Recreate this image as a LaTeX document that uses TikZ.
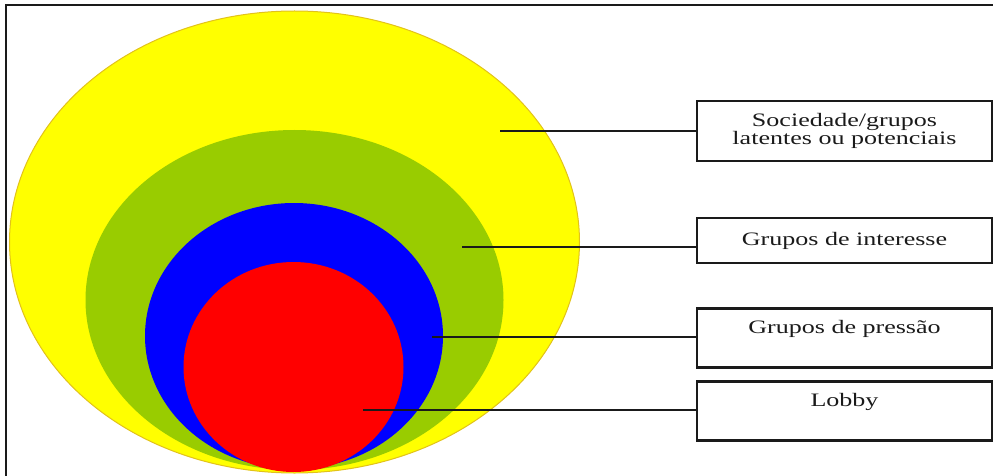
\documentclass[tikz,border=0pt]{standalone}
\usepackage{fontspec}
\setmainfont{Liberation Serif}
\newfontfamily\boxfont[FakeStretch=1.37]{Liberation Serif}
\definecolor{ylw}{HTML}{FFFF00}
\definecolor{ylwedge}{HTML}{E2C21A}
\definecolor{grn}{HTML}{99CC00}
\definecolor{blu}{HTML}{0000FF}
\definecolor{rd}{HTML}{FF0000}
\definecolor{ink}{HTML}{1A1A1A}
\tikzset{
  labelbox/.style={draw=ink, line width=2.5pt, rectangle, minimum width=295pt,
    inner sep=0pt, align=center, font=\boxfont\fontsize{19}{18.5}\selectfont, text=ink},
  connector/.style={draw=ink, line width=2.2pt},
}
\begin{document}
\begin{tikzpicture}[x=1pt,y=-1pt]
\useasboundingbox (0,0) rectangle (993,476);
% outer frame
\draw[ink, line width=2.5pt] (6,476) -- (6,5) -- (993,5);
% nested ellipses
\filldraw[fill=ylw, draw=ylwedge, line width=1pt] (294.5,242) ellipse [x radius=285, y radius=231];
\fill[grn] (294.5,300) ellipse [x radius=209, y radius=170];
\fill[blu] (294,336) ellipse [x radius=149, y radius=133];
\fill[rd] (293.5,367) ellipse [x radius=110, y radius=105];
% boxes
\node[labelbox, minimum height=60pt] (b1) at (844.5,131) {Sociedade/grupos\\latentes ou potenciais};
\node[labelbox, minimum height=45pt] (b2) at (844.5,240.5) {Grupos de interesse};
\node[labelbox, text height=25pt, text depth=34pt, anchor=north] (b3) at (844.5,307) {Grupos de pressão};
\node[labelbox, text height=25pt, text depth=34pt, anchor=north] (b4) at (844.5,380) {Lobby};
% connector start points
\coordinate (c1) at (500,131);
\coordinate (c2) at (462,247);
\coordinate (c3) at (432,337);
\coordinate (c4) at (363,410);
\draw[connector] (c1) -- (c1 -| b1.west);
\draw[connector] (c2) -- (c2 -| b2.west);
\draw[connector] (c3) -- (c3 -| b3.west);
\draw[connector] (c4) -- (c4 -| b4.west);
\end{tikzpicture}
\end{document}
